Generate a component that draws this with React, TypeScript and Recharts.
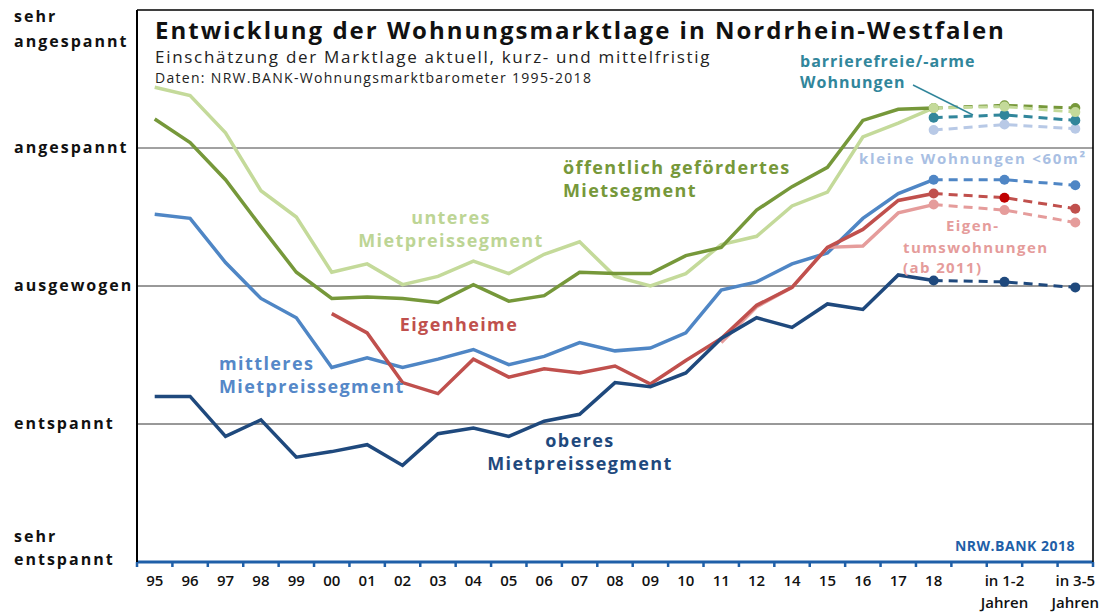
import { LineChart, Line, XAxis, YAxis, ReferenceLine } from "recharts";

// years on the axis (2013 is not in the survey)
const years = ["95", "96", "97", "98", "99", "00", "01", "02", "03", "04", "05", "06", "07", "08", "09", "10", "11", "12", "14", "15", "16", "17", "18"];
const futureKeys = ["gap1", "in12", "gap2", "in35"];
const futureLabels: Record<string, string> = { gap1: "", in12: "in 1-2\nJahren", gap2: "", in35: "in 3-5\nJahren" };
const forecastKeys = ["18", "in12", "in35"];

const levels = ["sehr\nentspannt", "entspannt", "ausgewogen", "angespannt", "sehr\nangespannt"];

// 0 = sehr entspannt ... 4 = sehr angespannt
const unteres = [3.44, 3.38, 3.11, 2.69, 2.5, 2.1, 2.16, 2.01, 2.07, 2.18, 2.09, 2.23, 2.32, 2.07, 2.0, 2.09, 2.3, 2.36, 2.58, 2.68, 3.08, 3.18, 3.29];
const oeffentlich = [3.21, 3.04, 2.77, 2.43, 2.1, 1.91, 1.92, 1.91, 1.88, 2.01, 1.89, 1.93, 2.1, 2.09, 2.09, 2.22, 2.28, 2.55, 2.72, 2.86, 3.2, 3.28, 3.29];
const mittleres = [2.52, 2.49, 2.17, 1.91, 1.77, 1.41, 1.48, 1.41, 1.47, 1.54, 1.43, 1.49, 1.59, 1.53, 1.55, 1.66, 1.97, 2.03, 2.16, 2.24, 2.49, 2.67, 2.77];
const eigenheime = [null, null, null, null, null, 1.8, 1.66, 1.3, 1.22, 1.47, 1.34, 1.4, 1.37, 1.42, 1.29, 1.46, 1.62, 1.86, 1.99, 2.28, 2.41, 2.62, 2.67];
const eigentum = [null, null, null, null, null, null, null, null, null, null, null, null, null, null, null, null, 1.59, 1.85, 1.99, 2.28, 2.29, 2.53, 2.59];
const oberes = [1.2, 1.2, 0.91, 1.03, 0.76, 0.8, 0.85, 0.7, 0.93, 0.97, 0.91, 1.02, 1.07, 1.3, 1.27, 1.37, 1.62, 1.77, 1.7, 1.87, 1.83, 2.08, 2.04];

// forecasts: 18, in 1-2 Jahren, in 3-5 Jahren
const oeffentlichF = [3.29, 3.31, 3.29];
const unteresF = [3.29, 3.3, 3.26];
const barriereF = [3.22, 3.24, 3.2];
const kleineF = [3.13, 3.17, 3.14];
const mittleresF = [2.77, 2.77, 2.73];
const eigenheimeF = [2.67, 2.64, 2.56];
const eigentumF = [2.59, 2.55, 2.46];
const oberesF = [2.04, 2.03, 1.99];

const C = {
  darkGreen: "#76983a",
  lightGreen: "#c4da9a",
  teal: "#31869b",
  small: "#b8c9e6",
  mid: "#4f86c5",
  red: "#c0504d",
  redHi: "#c00000",
  pink: "#e59c9b",
  navy: "#1f497d",
  axis: "#1f5fa8",
};

const keys = [...years, ...futureKeys];
const solid: Record<string, (number | null)[]> = { unteres, oeffentlich, mittleres, eigenheime, eigentum, oberes };
const forecast: Record<string, number[]> = {
  oeffentlichF, unteresF, barriereF, kleineF, mittleresF, eigenheimeF, eigentumF, oberesF,
};

const data = keys.map((k, i) => {
  const row: Record<string, any> = { key: k };
  for (const [name, arr] of Object.entries(solid)) row[name] = i < arr.length ? arr[i] : null;
  const fi = forecastKeys.indexOf(k);
  for (const [name, arr] of Object.entries(forecast)) row[name] = fi >= 0 ? arr[fi] : null;
  return row;
});

const FONT = "'Open Sans', sans-serif";

function LevelTick({ y, payload }: any) {
  const v = payload.value as number;
  const lines = levels[v].split("\n");
  let ys: number[];
  if (v === 4) ys = [y + 6, y + 31];
  else if (v === 0) ys = [y - 26, y - 3];
  else ys = [y - 1];
  return (
    <g>
      {lines.map((t, i) => (
        <text key={i} x={14} y={ys[i]} dominantBaseline="central" fontFamily={FONT} fontWeight={700} fontSize={16} letterSpacing={2} fill="#111">
          {t}
        </text>
      ))}
    </g>
  );
}

// label in the band centre, small tick marks on the band edges
function YearTick({ x, y, payload, index, visibleTicksCount }: any) {
  const k = payload.value as string;
  const label = k in futureLabels ? futureLabels[k] : k;
  const lines = label.split("\n");
  const half = payload.offset ?? 956 / keys.length / 2;
  const last = index === (visibleTicksCount ?? keys.length) - 1;
  return (
    <g>
      <line x1={x - half} x2={x - half} y1={y} y2={y + 5} stroke={C.axis} strokeWidth={2.5} />
      {last && <line x1={x + half} x2={x + half} y1={y} y2={y + 5} stroke={C.axis} strokeWidth={2.5} />}
      {lines.map((t, i) => (
        <text key={i} x={x} y={y + 18 + i * 22} textAnchor="middle" dominantBaseline="central" fontFamily={FONT} fontWeight={600} fontSize={15} fill="#111">
          {t}
        </text>
      ))}
    </g>
  );
}

const makeDot = (color: string, hiIndex?: number) => (p: any) => {
  if (p.value == null || p.cy == null) return <g key={p.key} />;
  return <circle key={p.key} cx={p.cx} cy={p.cy} r={5} fill={p.index === hiIndex ? C.redHi : color} stroke="none" />;
};

function Annotations() {
  const t = (x: number, y: number, s: string, fill: string, size = 18, anchor: "start" | "middle" | "end" = "start", weight = 700, ls = 1.4) => (
    <text x={x} y={y} textAnchor={anchor} dominantBaseline="central" fontFamily={FONT} fontWeight={weight} fontSize={size} letterSpacing={ls} fill={fill}>
      {s}
    </text>
  );
  return (
    <svg width={1106} height={612} style={{ position: "absolute", left: 0, top: 0, pointerEvents: "none" }}>
      {/* frame: top and right edge of the plot box */}
      <polyline points="137,10 1093,10 1093,562" fill="none" stroke="#000" strokeWidth={1.6} />
      {t(155, 29, "Entwicklung der Wohnungsmarktlage in Nordrhein-Westfalen", "#111", 24, "start", 700, 2)}
      {t(155, 56, "Einschätzung der Marktlage aktuell, kurz- und mittelfristig", "#222", 17, "start", 400, 1.7)}
      {t(155, 77, "Daten: NRW.BANK-Wohnungsmarktbarometer 1995-2018", "#222", 14, "start", 400, 1.3)}
      {t(800, 61, "barrierefreie/-arme", C.teal, 16, "start", 700, 1)}
      {t(800, 82, "Wohnungen", C.teal, 16, "start", 700, 1)}
      <line x1={913} y1={85} x2={973} y2={115} stroke={C.teal} strokeWidth={1.5} />
      {t(859, 158, "kleine Wohnungen <60m²", "#a9bfe3", 15, "start", 700, 1.7)}
      {t(563, 167, "öffentlich gefördertes", C.darkGreen)}
      {t(563, 190, "Mietsegment", C.darkGreen)}
      {t(451, 217, "unteres", "#bdd595", 18, "middle")}
      {t(451, 240, "Mietpreissegment", "#bdd595", 18, "middle")}
      {t(946, 225, "Eigen-", C.pink, 15)}
      {t(903, 247, "tumswohnungen", C.pink, 15)}
      {t(903, 267, "(ab 2011)", C.pink, 15)}
      {t(459, 324, "Eigenheime", C.red, 18, "middle")}
      {t(219, 363, "mittleres", "#5588c8")}
      {t(219, 386, "Mietpreissegment", "#5588c8")}
      {t(580, 440, "oberes", C.navy, 18, "middle")}
      {t(580, 463, "Mietpreissegment", C.navy, 18, "middle")}
      {t(1075, 545, "NRW.BANK 2018", C.axis, 14, "end", 700, 0.5)}
    </svg>
  );
}

export default function App() {
  const dash = "9 6";
  return (
    <div style={{ position: "absolute", left: 0, top: 0, width: 1106, height: 612, background: "#fff" }}>
      <LineChart width={1106} height={612} data={data} margin={{ top: 10, right: 13, bottom: 0, left: 0 }}>
        <XAxis dataKey="key" type="category" scale="band" interval={0} tick={<YearTick />} tickLine={false} tickSize={0} tickMargin={0} axisLine={{ stroke: C.axis, strokeWidth: 3 }} height={50} />
        <YAxis type="number" domain={[0, 4]} ticks={[0, 1, 2, 3, 4]} tick={<LevelTick />} tickLine={false} axisLine={{ stroke: "#000", strokeWidth: 2 }} width={137} />
        <ReferenceLine y={1} stroke="#333" strokeWidth={1} />
        <ReferenceLine y={2} stroke="#333" strokeWidth={1} />
        <ReferenceLine y={3} stroke="#444" strokeWidth={1} />

        <Line dataKey="unteres" stroke={C.lightGreen} strokeWidth={3.5} dot={false} isAnimationActive={false} />
        <Line dataKey="oeffentlich" stroke={C.darkGreen} strokeWidth={3.5} dot={false} isAnimationActive={false} />
        <Line dataKey="mittleres" stroke={C.mid} strokeWidth={3.5} dot={false} isAnimationActive={false} />
        <Line dataKey="eigentum" stroke={C.pink} strokeWidth={3.5} dot={false} isAnimationActive={false} />
        <Line dataKey="eigenheime" stroke={C.red} strokeWidth={3.5} dot={false} isAnimationActive={false} />
        <Line dataKey="oberes" stroke={C.navy} strokeWidth={3.5} dot={false} isAnimationActive={false} />

        <Line dataKey="kleineF" stroke={C.small} strokeWidth={3} strokeDasharray={dash} connectNulls dot={makeDot(C.small)} isAnimationActive={false} />
        <Line dataKey="barriereF" stroke={C.teal} strokeWidth={3} strokeDasharray={dash} connectNulls dot={makeDot(C.teal)} isAnimationActive={false} />
        <Line dataKey="oeffentlichF" stroke={C.darkGreen} strokeWidth={3} strokeDasharray={dash} connectNulls dot={makeDot(C.darkGreen)} isAnimationActive={false} />
        <Line dataKey="unteresF" stroke={C.lightGreen} strokeWidth={3} strokeDasharray={dash} connectNulls dot={makeDot(C.lightGreen)} isAnimationActive={false} />
        <Line dataKey="mittleresF" stroke={C.mid} strokeWidth={3} strokeDasharray={dash} connectNulls dot={makeDot(C.mid)} isAnimationActive={false} />
        <Line dataKey="eigentumF" stroke={C.pink} strokeWidth={3} strokeDasharray={dash} connectNulls dot={makeDot(C.pink)} isAnimationActive={false} />
        <Line dataKey="eigenheimeF" stroke={C.red} strokeWidth={3} strokeDasharray={dash} connectNulls dot={makeDot(C.red, 24)} isAnimationActive={false} />
        <Line dataKey="oberesF" stroke={C.navy} strokeWidth={3} strokeDasharray={dash} connectNulls dot={makeDot(C.navy)} isAnimationActive={false} />
      </LineChart>
      <Annotations />
    </div>
  );
}
